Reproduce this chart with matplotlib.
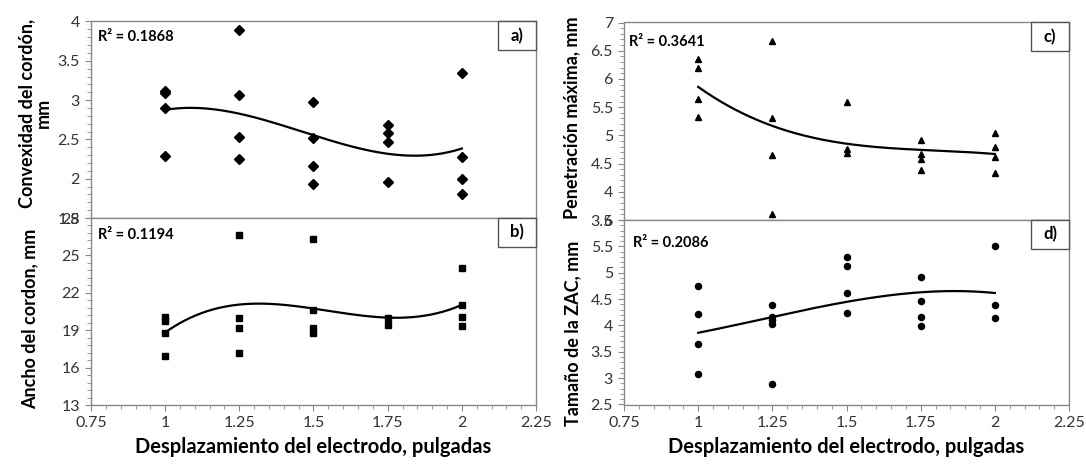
import numpy as np
import matplotlib
matplotlib.use('Agg')
import matplotlib.pyplot as plt
from matplotlib.ticker import FixedLocator, AutoMinorLocator, FormatStrFormatter
from matplotlib.patches import Rectangle

plt.rcParams['font.family'] = ['Lato', 'DejaVu Sans']

# ------------------
# data

conv_x = [1, 1, 1, 1, 1.25, 1.25, 1.25, 1.25, 1.5, 1.5, 1.5, 1.5,
          1.75, 1.75, 1.75, 1.75, 2, 2, 2, 2]
conv_y = [3.12, 3.09, 2.90, 2.29, 3.89, 3.06, 2.53, 2.25, 2.97, 2.52, 2.16, 1.93,
          2.68, 2.58, 2.47, 1.96, 3.35, 2.28, 2.00, 1.80]

ancho_x = [1, 1, 1, 1, 1.25, 1.25, 1.25, 1.25, 1.5, 1.5, 1.5, 1.5,
           1.75, 1.75, 2, 2, 2, 2]
ancho_y = [20.09, 19.74, 18.80, 16.96, 26.64, 19.96, 19.15, 17.20, 26.29, 20.62, 19.15, 18.80,
           19.96, 19.42, 23.97, 21.02, 20.09, 19.36]

pen_x = [1, 1, 1, 1, 1.25, 1.25, 1.25, 1.25, 1.5, 1.5, 1.5,
         1.75, 1.75, 1.75, 1.75, 2, 2, 2, 2]
pen_y = [6.36, 6.20, 5.65, 5.33, 6.68, 5.31, 4.66, 3.61, 5.59, 4.75, 4.68,
         4.92, 4.67, 4.58, 4.39, 5.04, 4.79, 4.62, 4.33]

zac_x = [1, 1, 1, 1, 1.25, 1.25, 1.25, 1.25, 1.25, 1.5, 1.5, 1.5, 1.5,
         1.75, 1.75, 1.75, 1.75, 2, 2, 2]
zac_y = [4.74, 4.22, 3.65, 3.08, 4.38, 4.16, 4.11, 4.03, 2.88, 5.29, 5.13, 4.62, 4.24,
         4.91, 4.47, 4.16, 3.98, 5.50, 4.38, 4.15]

r2_text = ['R² = 0.1868', 'R² = 0.1194', 'R² = 0.3641', 'R² = 0.2086']
panel_tags = ['a)', 'b)', 'c)', 'd)']
ylabels = ['Convexidad del cordón,\nmm', 'Ancho del cordon, mm',
           'Penetración máxima, mm', 'Tamaño de la ZAC, mm']
xlabel = 'Desplazamiento del electrodo, pulgadas'

# ------------------

W, H = 1086, 465
fig = plt.figure(figsize=(W / 100, H / 100), dpi=100)

gray = '#888888'
tickc = '#333333'


def px_axes(x0, x1, ytop, ybot):
    return fig.add_axes((x0 / W, 1 - ybot / H, (x1 - x0) / W, (ybot - ytop) / H))


ax_a = px_axes(91, 536, 21.5, 218)
ax_b = px_axes(91, 536, 218, 405)
ax_c = px_axes(624, 1069, 22.5, 220)
ax_d = px_axes(624, 1069, 220, 404.5)

panels = [
    (ax_a, conv_x, conv_y, 'D', 4.6, (1.5, 4), 0.5),
    (ax_b, ancho_x, ancho_y, 's', 4.6, (13, 28), 3),
    (ax_c, pen_x, pen_y, '^', 4.6, (3.5, 7), 0.5),
    (ax_d, zac_x, zac_y, 'o', 4.4, (2.5, 6), 0.5),
]

r2_pos = [(0.016, 0.919), (0.016, 0.909), (0.011, 0.90), (0.02, 0.877)]
ylab_pos = [(-0.126, 0.533), (-0.137, 0.46), (-0.117, 0.52), (-0.115, 0.385)]

for i, (ax, xs, ys, mk, ms, ylim, step) in enumerate(panels):
    ax.plot(xs, ys, linestyle='none', marker=mk, ms=ms, color='k', zorder=3)

    # Excel-style 3rd order trend line through the group means
    ux = np.unique(xs)
    means = [np.mean([y for x, y in zip(xs, ys) if x == u]) for u in ux]
    coef = np.polyfit(ux, means, 3)
    xx = np.linspace(ux.min(), ux.max(), 200)
    ax.plot(xx, np.polyval(coef, xx), color='k', lw=1.6, zorder=2)

    ax.set_xlim(0.75, 2.25)
    ax.set_ylim(*ylim)
    ax.xaxis.set_major_locator(FixedLocator(np.arange(0.75, 2.26, 0.25)))
    ax.xaxis.set_minor_locator(AutoMinorLocator(5))
    ax.yaxis.set_major_locator(FixedLocator(np.arange(ylim[0], ylim[1] + step / 2, step)))
    ax.yaxis.set_minor_locator(AutoMinorLocator(5))
    ax.xaxis.set_major_formatter(FormatStrFormatter('%g'))
    ax.yaxis.set_major_formatter(FormatStrFormatter('%g'))

    for s in ax.spines.values():
        s.set_color(gray)
        s.set_linewidth(1.0)
    ax.tick_params(which='both', direction='out', color=gray, labelcolor=tickc,
                   labelsize=11.5, top=False, right=False)
    ax.tick_params(which='major', length=4, pad=4)
    ax.tick_params(which='minor', length=3)
    if i in (0, 2):
        ax.tick_params(axis='x', which='both', bottom=False, labelbottom=False)

    ax.text(r2_pos[i][0], r2_pos[i][1], r2_text[i], transform=ax.transAxes,
            fontsize=10.5, fontweight='bold', ha='left', va='center')

    # panel tag box in the upper right corner
    h = ax.get_position().height * H
    bw, bh = 38 / 445, 29 / h
    ax.add_patch(Rectangle((1 - bw, 1 - bh), bw, bh, transform=ax.transAxes,
                           facecolor='white', edgecolor='#555555', lw=1.0,
                           zorder=4, clip_on=False))
    ax.text(1 - bw / 2, 1 - bh / 2, panel_tags[i], transform=ax.transAxes,
            fontsize=12, fontweight='bold', ha='center', va='center', zorder=5)

    ax.text(ylab_pos[i][0], ylab_pos[i][1], ylabels[i], transform=ax.transAxes,
            rotation=90, fontsize=13, fontweight='bold', ha='center', va='center',
            linespacing=1.0)

fig.text(313.5 / W, 1 - 447 / H, xlabel, fontsize=14.5, fontweight='bold',
         ha='center', va='center')
fig.text(846.5 / W, 1 - 447 / H, xlabel, fontsize=14.5, fontweight='bold',
         ha='center', va='center')

fig.savefig('out.png', dpi=100)
